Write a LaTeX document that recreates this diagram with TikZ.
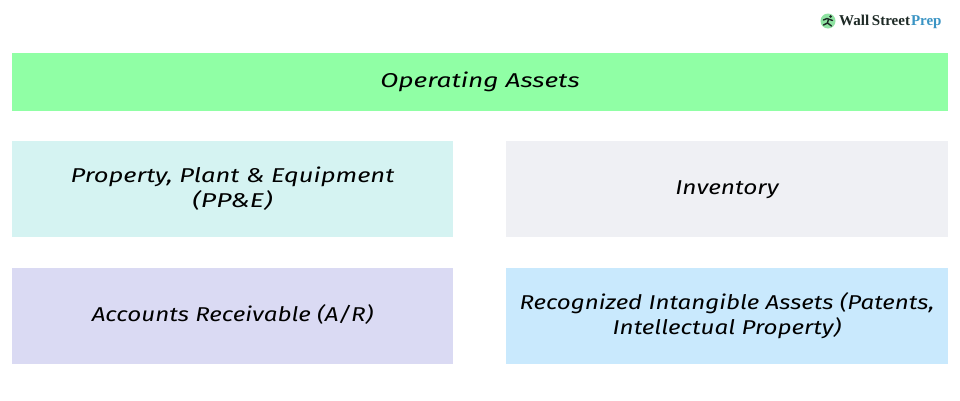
\documentclass[tikz,border=0pt]{standalone}
\usepackage{graphicx}
\usepackage{fontspec}
\setmainfont{DejaVu Sans}
\newfontfamily\hand{Fira Sans}[ItalicFont=* Italic,FakeStretch=1.27]
\newfontfamily\logofont{Liberation Serif}[BoldFont=* Bold]
\definecolor{cgreen}{HTML}{90FFA5}
\definecolor{cteal}{HTML}{D5F3F2}
\definecolor{cgray}{HTML}{EFF0F4}
\definecolor{cviolet}{HTML}{DADAF3}
\definecolor{cblue}{HTML}{C9E9FD}
\definecolor{logogreen}{HTML}{8FE3A2}
\definecolor{logoblue}{HTML}{3A94C4}
\definecolor{logoink}{HTML}{1E2A26}
\newcommand{\fitx}[2]{\scalebox{#1}[1]{#2}}
\tikzset{x=1pt,y=-1pt,
 panel/.style={anchor=north west,inner sep=0pt,outer sep=0pt,align=center,font=\hand\itshape\fontsize{20}{25}\selectfont,text=black}}
\begin{document}
\begin{tikzpicture}
\useasboundingbox (0,0) rectangle (960,400);
\fill[white] (0,0) rectangle (960,400);
\node[panel,fill=cgreen,minimum width=936pt,minimum height=58pt] (oa) at (12,53) {\fitx{1.037}{Operating Assets}};
\node[panel,fill=cteal,minimum width=441pt,minimum height=96pt] (ppe) at (12,141) {\fitx{1.006}{Property, Plant \& Equipment}\\\fitx{1.05}{(PP\&E)}};
\node[panel,fill=cgray,minimum width=442pt,minimum height=96pt] (inv) at (506,141) {\raisebox{-1pt}[\height][\depth]{\fitx{0.963}{Inventory}}};
\node[panel,fill=cviolet,minimum width=441pt,minimum height=96pt] (ar) at (12,268) {\raisebox{2pt}[\height][\depth]{\fitx{0.953}{Accounts Receivable (A/R)}}};
\node[panel,fill=cblue,minimum width=442pt,minimum height=96pt] (ria) at (506,268) {\fitx{0.95}{Recognized Intangible Assets (Patents,}\\\fitx{0.954}{Intellectual Property)}};
\node[circle,fill=logogreen,minimum size=15pt,inner sep=0pt] (logo) at (828,21) {};
\fill[logoink] (830.5,16.5) circle (1.5);
\draw[logoink,line width=1.4pt,line cap=round,line join=round] (823.5,20) -- (827,18.5) -- (832.5,20.5) (828.5,19) -- (827.5,23) -- (823.5,25) (827.5,23) -- (831.5,26);
\node[anchor=west,inner sep=0pt,font=\logofont\bfseries\fontsize{15}{16}\selectfont,text=logoink] (lt) at (839,22) {Wall\hspace{-1pt} Street\hspace{1pt}\textcolor{logoblue}{Prep}};
\end{tikzpicture}
\end{document}
